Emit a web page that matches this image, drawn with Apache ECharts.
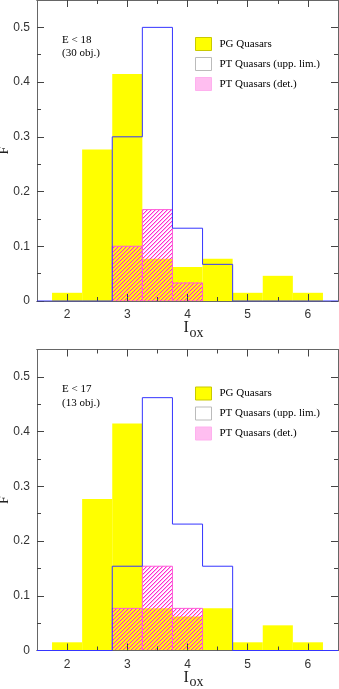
<!DOCTYPE html>
<html lang="en">
<head>
<meta charset="UTF-8">
<script src="https://cdn.jsdelivr.net/npm/echarts@6/dist/echarts.min.js"></script>
<title>Iox histograms</title>
<style>
  html, body { margin: 0; padding: 0; background: #fff; }
  #chart { width: 339px; height: 689px; }
</style>
</head>
<body>
<div id="chart"></div>
<script>
// bins of I_ox, width 0.5
const binLeft = [1.75, 2.25, 2.75, 3.25, 3.75, 4.25, 4.75, 5.25, 5.75];
const binWidth = 0.5;
// PG quasars (same in both panels)
const pgFrac = [0.015, 0.277, 0.415, 0.077, 0.062, 0.077, 0.015, 0.046, 0.015];
// PT quasars, E < 18 (30 obj.)
const ptUpp18 = [0, 0, 0.300, 0.500, 0.133, 0.067, 0, 0, 0];
const ptDet18 = [0, 0, 0.100, 0.167, 0.033, 0, 0, 0, 0];
// PT quasars, E < 17 (13 obj.)
const ptUpp17 = [0, 0, 0.154, 0.462, 0.231, 0.154, 0, 0, 0];
const ptDet17 = [0, 0, 0.077, 0.154, 0.077, 0, 0, 0, 0];

const xTicks = [2, 3, 4, 5, 6];
const xMinor = [2.5, 3.5, 4.5, 5.5];
const yTicks = [0, 0.1, 0.2, 0.3, 0.4, 0.5];
const yMinor = [0.05, 0.15, 0.25, 0.35, 0.45];

const panels = [
  { label: 'E < 18\n(30 obj.)', upp: ptUpp18, det: ptDet18, top: 0 },
  { label: 'E < 17\n(13 obj.)', upp: ptUpp17, det: ptDet17, top: 349.5 }
];

const serif = '"Liberation Serif", "DejaVu Serif", serif';
const sans = '"Liberation Sans", "DejaVu Sans", sans-serif';
const frameColor = '#666';
const blue = '#3535ff';

// diagonal hatch "////" for detections
function makeHatch() {
  const c = document.createElement('canvas');
  c.width = 4; c.height = 4;
  const ctx = c.getContext('2d');
  for (let y = 0; y < 4; y++) {
    for (let x = 0; x < 4; x++) {
      const k = (x + y) % 4;
      if (k === 0) { ctx.fillStyle = 'rgba(255,40,210,1)'; ctx.fillRect(x, y, 1, 1); }
      else if (k === 1) { ctx.fillStyle = 'rgba(255,90,225,0.45)'; ctx.fillRect(x, y, 1, 1); }
    }
  }
  return c;
}
function makeDots() {
  const c = document.createElement('canvas');
  c.width = 2; c.height = 2;
  const ctx = c.getContext('2d');
  ctx.fillStyle = '#ffe0f8'; ctx.fillRect(0, 0, 2, 2);
  ctx.fillStyle = '#ff9ce8'; ctx.fillRect(0, 0, 1, 1); ctx.fillRect(1, 1, 1, 1);
  return c;
}
const hatch = makeHatch();
const dots = makeDots();

function barsItem(style) {
  return function (params, api) {
    const v = api.value(2);
    if (!v) return;
    const p0 = api.coord([api.value(0), 0]);
    const p1 = api.coord([api.value(1), v]);
    return {
      type: 'rect',
      shape: { x: p0[0], y: p1[1], width: p1[0] - p0[0], height: p0[1] - p1[1] },
      style: style
    };
  };
}

function binData(values) {
  return binLeft.map((x, i) => [x, x + binWidth, values[i]]);
}
function stepData(values) {
  const pts = [[1.5, 0]];
  binLeft.forEach((x, i) => pts.push([x, values[i]]));
  pts.push([binLeft[binLeft.length - 1] + binWidth, 0]);
  pts.push([6.5, 0]);
  return pts;
}

const grid = [], xAxis = [], yAxis = [], series = [], legend = [], graphic = [];

panels.forEach((p, g) => {
  grid.push({ left: 37, right: 1, top: p.top, height: 301, outerBoundsMode: 'none', containLabel: false });

  const xBase = { gridIndex: g, type: 'value', min: 1.5, max: 6.5, z: 3,
    splitLine: { show: false }, axisLabel: { show: false },
    axisLine: { show: true, onZero: false, lineStyle: { color: frameColor, width: 1 } } };
  const yBase = { gridIndex: g, type: 'value', min: 0, max: 0.55, z: 3,
    splitLine: { show: false }, axisLabel: { show: false },
    axisLine: { show: true, onZero: false, lineStyle: { color: frameColor, width: 1 } } };
  const tick = (vals, len) => ({ show: true, inside: true, length: len, customValues: vals,
    lineStyle: { color: '#444', width: 1 } });

  xAxis.push(Object.assign({}, xBase, { position: 'bottom', axisTick: tick(xTicks, 7),
    axisLabel: { show: true, customValues: xTicks, margin: 8, color: '#333', fontSize: 12, fontFamily: sans } }));
  xAxis.push(Object.assign({}, xBase, { position: 'bottom', axisTick: tick(xMinor, 4) }));
  xAxis.push(Object.assign({}, xBase, { position: 'top', axisTick: tick(xTicks, 7) }));
  xAxis.push(Object.assign({}, xBase, { position: 'top', axisTick: tick(xMinor, 4) }));

  yAxis.push(Object.assign({}, yBase, { position: 'left', axisTick: tick(yTicks, 7),
    axisLabel: { show: true, customValues: yTicks, margin: 7, color: '#333', fontSize: 12, fontFamily: sans },
    name: 'F', nameLocation: 'middle', nameGap: 26, nameMoveOverlap: false,
    nameTextStyle: { fontFamily: serif, fontSize: 14, color: '#222' } }));
  yAxis.push(Object.assign({}, yBase, { position: 'left', axisTick: tick(yMinor, 4) }));
  yAxis.push(Object.assign({}, yBase, { position: 'right', axisTick: tick(yTicks, 7) }));
  yAxis.push(Object.assign({}, yBase, { position: 'right', axisTick: tick(yMinor, 4) }));

  const xi = 4 * g, yi = 4 * g;
  series.push({
    name: 'PG Quasars', type: 'custom', xAxisIndex: xi, yAxisIndex: yi, z: 1,
    itemStyle: { color: '#ffff00' },
    encode: { x: [0, 1], y: 2 },
    renderItem: barsItem({ fill: '#ffff00' }),
    data: binData(pgFrac)
  });
  series.push({
    name: 'PT Quasars (det.)', type: 'custom', xAxisIndex: xi, yAxisIndex: yi, z: 2,
    itemStyle: { color: '#ff66dd' },
    encode: { x: [0, 1], y: 2 },
    renderItem: barsItem({ fill: { image: hatch, repeat: 'repeat' }, stroke: '#ff5ad8', lineWidth: 1 }),
    data: binData(p.det)
  });
  series.push({
    name: 'PT Quasars (upp. lim.)', type: 'line', xAxisIndex: xi, yAxisIndex: yi, z: 4,
    step: 'end', symbol: 'none', color: blue,
    lineStyle: { color: blue, width: 1 },
    data: stepData(p.upp)
  });

  legend.push({
    orient: 'vertical', left: 190, top: p.top + 32, itemWidth: 16, itemHeight: 13, itemGap: 6,
    selectedMode: false,
    textStyle: { fontFamily: serif, fontSize: 11, color: '#000', padding: [0, 0, 0, 3] },
    data: [
      { name: 'PG Quasars', icon: 'rect', itemStyle: { color: '#ffff00', borderColor: '#c9c900', borderWidth: 1 } },
      { name: 'PT Quasars (upp. lim.)', icon: 'rect', itemStyle: { color: '#ffffff', borderColor: '#bbbbbb', borderWidth: 1 }, lineStyle: { width: 0 } },
      { name: 'PT Quasars (det.)', icon: 'rect', itemStyle: { color: { image: dots, repeat: 'repeat' }, borderColor: '#ffb0ee', borderWidth: 1 } }
    ]
  });

  graphic.push({ type: 'text', left: 62, top: p.top + 33,
    style: { text: p.label, font: '11px ' + serif, lineHeight: 13.5, fill: '#000' } });
  graphic.push({ type: 'text', left: 183.5, top: p.top + 320,
    style: { text: 'I', font: '16px ' + serif, fill: '#222' } });
  graphic.push({ type: 'text', left: 189.5, top: p.top + 326,
    style: { text: 'ox', font: '14px ' + serif, fill: '#222' } });
});

const option = {
  animation: false,
  backgroundColor: '#fff',
  grid, xAxis, yAxis, series, legend, graphic
};

const chart = echarts.init(document.getElementById('chart'));
chart.setOption(option);
window.onresize = function () { chart.resize(); };
</script>
</body>
</html>
